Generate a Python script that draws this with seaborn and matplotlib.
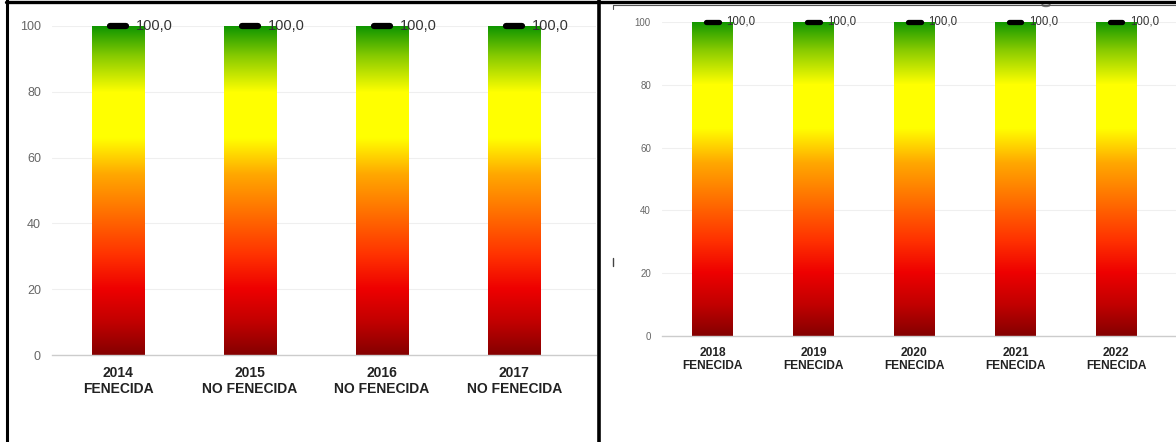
import numpy as np
import pandas as pd
import matplotlib
matplotlib.use("Agg")
import matplotlib.pyplot as plt
import seaborn as sns
from matplotlib.colors import LinearSegmentedColormap
from matplotlib import font_manager
from matplotlib.lines import Line2D
from matplotlib.patches import Circle

# ---------------- data ----------------
years_a = ["2014", "2015", "2016", "2017"]
status_a = ["FENECIDA", "NO FENECIDA", "NO FENECIDA", "NO FENECIDA"]
values_a = [100.0, 100.0, 100.0, 100.0]

years_b = ["2018", "2019", "2020", "2021", "2022"]
status_b = ["FENECIDA", "FENECIDA", "FENECIDA", "FENECIDA", "FENECIDA"]
values_b = [100.0, 100.0, 100.0, 100.0, 100.0]

y_ticks = [0, 20, 40, 60, 80, 100]

# ---------------- style ----------------
sns.set_theme(style="white")
plt.rcParams["font.family"] = ["Liberation Sans", "DejaVu Sans"]

try:
    font_manager.findfont("Liberation Sans Narrow", fallback_to_default=False)
    NARROW = ["Liberation Sans Narrow", "Liberation Sans", "DejaVu Sans"]
    narrow_ok = True
except Exception:
    NARROW = ["Liberation Sans", "DejaVu Sans"]
    narrow_ok = False
WIDE = ["Liberation Sans", "DejaVu Sans"]

cmap = LinearSegmentedColormap.from_list(
    "grad",
    [(0.00, "#850000"), (0.10, "#c20000"), (0.20, "#ee0000"), (0.30, "#ff3000"),
     (0.42, "#ff6a00"), (0.55, "#ffa800"), (0.66, "#ffff00"), (0.80, "#ffff00"),
     (0.91, "#88cb00"), (1.00, "#109600")])

W, H = 1176, 442
fig = plt.figure(figsize=(W / 100, H / 100), dpi=100)


def px_axes(x0, x1, ytop, ybot):
    return fig.add_axes([x0 / W, (H - ybot) / H, (x1 - x0) / W, (ybot - ytop) / H])


def draw_panel(ax, years, status, values, xmax, fam, tick_fs, ytick_fs, val_fs,
               mark_lw, val_dx, ypad, xpad):
    labels = [f"{y}\n{s}" for y, s in zip(years, status)]
    df = pd.DataFrame({"cat": labels, "val": values})
    sns.barplot(data=df, x="cat", y="val", ax=ax, width=0.4, color="red",
                errorbar=None, zorder=2)
    for p in list(ax.patches):
        x0, y0 = p.get_x(), p.get_y()
        w, h = p.get_width(), p.get_height()
        grad = np.linspace(y0 / 100.0, (y0 + h) / 100.0, 256).reshape(-1, 1)
        im = ax.imshow(grad, extent=[x0, x0 + w, y0, y0 + h], origin="lower",
                       aspect="auto", cmap=cmap, vmin=0, vmax=1, zorder=2,
                       interpolation="bilinear")
        im.set_clip_path(p)
        p.set_facecolor("none")
        p.set_edgecolor("none")
    for i, v in enumerate(values):
        ax.plot([i - 0.06, i + 0.06], [v, v], color="black", lw=mark_lw,
                solid_capstyle="round", zorder=4, clip_on=False)
        ax.text(i + val_dx, v, f"{v:.1f}".replace(".", ","), ha="left",
                va="center", fontsize=val_fs, color="#333333", family=fam,
                zorder=5, clip_on=False)
    ax.set_xlim(-0.5, xmax)
    ax.set_ylim(0, 100)
    ax.set_yticks(y_ticks)
    ax.set_yticklabels([str(t) for t in y_ticks], family=fam, fontsize=ytick_fs,
                       color="#666666")
    ax.set_xticks(range(len(labels)))
    ax.set_xticklabels(labels, family=fam, fontsize=tick_fs, fontweight="bold",
                       color="#222222", linespacing=1.15)
    ax.tick_params(axis="both", length=0)
    ax.tick_params(axis="x", pad=xpad)
    ax.tick_params(axis="y", pad=ypad)
    ax.set_xlabel("")
    ax.set_ylabel("")
    for s in ["top", "right", "left"]:
        ax.spines[s].set_visible(False)
    ax.spines["bottom"].set_color("#cccccc")
    ax.spines["bottom"].set_linewidth(1.0)
    ax.yaxis.grid(True, color="#efefef", lw=0.8)
    ax.set_axisbelow(True)
    ax.set_facecolor("none")


ax1 = px_axes(52, 596, 26, 355)
draw_panel(ax1, years_a, status_a, values_a, 3.62, WIDE, 10, 9, 10.5,
           4.5, 0.135, 8, 8)

ax2 = px_axes(662, 1176, 22, 336)
draw_panel(ax2, years_b, status_b, values_b, 4.59, NARROW,
           9.5 if narrow_ok else 8.6, 7.5 if narrow_ok else 7,
           9 if narrow_ok else 8.3, 3.8, 0.14, 8, 8)

# ---------------- frame decorations ----------------
def fline(xs, ys, **kw):
    fig.add_artist(Line2D([x / W for x in xs], [(H - y) / H for y in ys],
                          transform=fig.transFigure, **kw))

fline([7, 7], [0, H], color="black", lw=2.2)
fline([599, 599], [0, H], color="black", lw=2.6)
fline([6, 1176], [1.5, 1.5], color="black", lw=2.4)
fline([613, 1176], [5, 5], color="#555555", lw=0.8)
fline([613, 613], [5, 9], color="#555555", lw=0.8)
fline([613, 613], [258, 266], color="#444444", lw=1.0)
fig.add_artist(Circle((1046 / W, (H - 5) / H), 4 / W, transform=fig.transFigure,
                      facecolor="white", edgecolor="#777777", lw=1.0))

fig.savefig("out.png", dpi=100)
